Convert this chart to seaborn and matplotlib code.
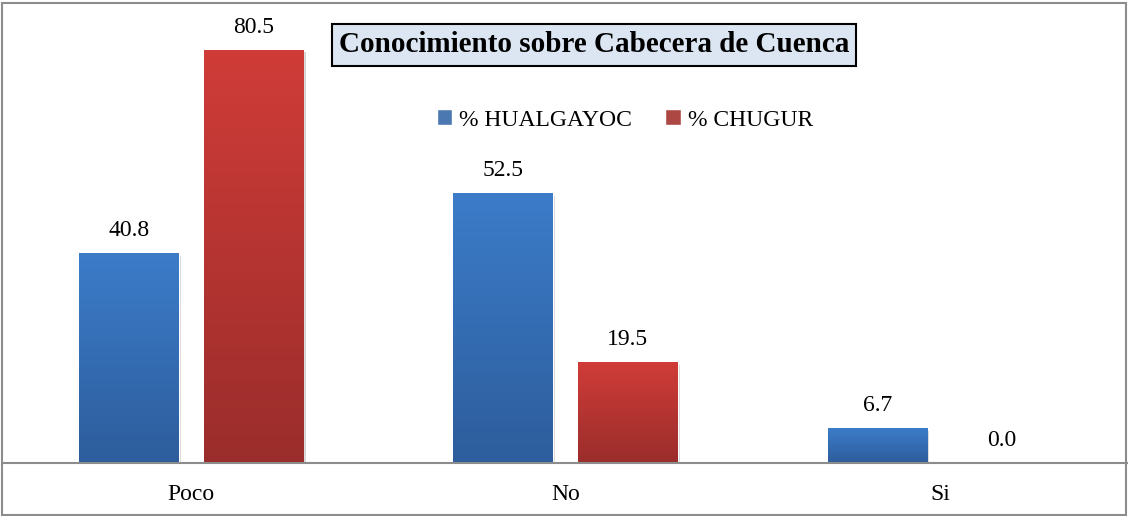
import numpy as np
import pandas as pd
import matplotlib
matplotlib.use("Agg")
import matplotlib.pyplot as plt
import seaborn as sns
from matplotlib.colors import LinearSegmentedColormap
from matplotlib.patches import Rectangle
import matplotlib.patheffects as pe

# data
categories = ['Poco', 'No', 'Si']
series_names = ['% HUALGAYOC', '% CHUGUR']
hualgayoc = [40.8, 52.5, 6.7]
chugur = [80.5, 19.5, 0.0]

df = pd.DataFrame({
    'Categoria': categories * 2,
    'Serie': [series_names[0]] * 3 + [series_names[1]] * 3,
    'Valor': hualgayoc + chugur,
})

sns.set_style('white')
plt.rcParams['font.family'] = ['Liberation Serif', 'DejaVu Serif']
plt.rcParams['text.color'] = 'black'
plt.rcParams['xtick.color'] = 'black'
plt.rcParams['xtick.labelcolor'] = 'black'

fig = plt.figure(figsize=(11.28, 5.16), dpi=100)
ax = fig.add_axes([4 / 1128, 53 / 516, 1123 / 1128, 453 / 516])

palette = {series_names[0]: '#3A76C2', series_names[1]: '#BE3632'}
sns.barplot(data=df, x='Categoria', y='Valor', hue='Serie', palette=palette,
            width=0.6667, gap=0.2, ax=ax, legend=True)

ax.set_xlim(-0.5, 2.5)
ax.set_ylim(0, 88.3)

# gradient fill for each bar (light top -> dark bottom)
grads = {
    series_names[0]: LinearSegmentedColormap.from_list('b', ['#2D5D9C', '#3C7CC9']),
    series_names[1]: LinearSegmentedColormap.from_list('r', ['#9A2D2B', '#D03C38']),
}
grad = np.linspace(0, 1, 256).reshape(-1, 1)
for container, name in zip(ax.containers, series_names):
    for bar in container:
        x, y = bar.get_x(), bar.get_y()
        w, h = bar.get_width(), bar.get_height()
        if h <= 0:
            continue
        bar.set_path_effects([pe.SimplePatchShadow(offset=(1.5, -1.5), alpha=0.25, shadow_rgbFace='#555555'),
                              pe.Normal()])
        ax.imshow(grad, extent=(x, x + w, y, y + h), origin='lower',
                  cmap=grads[name], aspect='auto', zorder=bar.get_zorder() + 0.1)
    ax.bar_label(container, fmt='%.1f', padding=9, fontsize=17, color='black')

ax.set_xlim(-0.5, 2.5)
ax.set_ylim(0, 88.3)

ax.set_xlabel('')
ax.set_ylabel('')
ax.set_yticks([])
ax.tick_params(axis='x', length=0, pad=15, labelsize=17, labelcolor='black')
for s in ['top', 'left', 'right']:
    ax.spines[s].set_visible(False)
ax.spines['bottom'].set_color('#8C8C8C')
ax.spines['bottom'].set_linewidth(1.5)

leg = ax.legend(loc='center', bbox_to_anchor=(625 / 1128, 1 - 120 / 516),
                bbox_transform=fig.transFigure, ncol=2, frameon=False,
                fontsize=17, handlelength=0.65, handleheight=0.65,
                handletextpad=0.3, columnspacing=1.4)
for t in leg.get_texts():
    t.set_color('black')

fig.text(594 / 1128, 1 - 45 / 516, 'Conocimiento sobre Cabecera de Cuenca',
         ha='center', va='center', fontsize=21, fontweight='bold', color='black',
         bbox=dict(facecolor='#DCE6F2', edgecolor='black', linewidth=1.5,
                   boxstyle='square,pad=0.25'))

# outer chart border
fig.patches.append(Rectangle((1.5 / 1128, 1.5 / 516), 1124 / 1128, 512 / 516,
                             transform=fig.transFigure, fill=False,
                             edgecolor='#8C8C8C', linewidth=1.5))

fig.savefig('out.png', dpi=100)
